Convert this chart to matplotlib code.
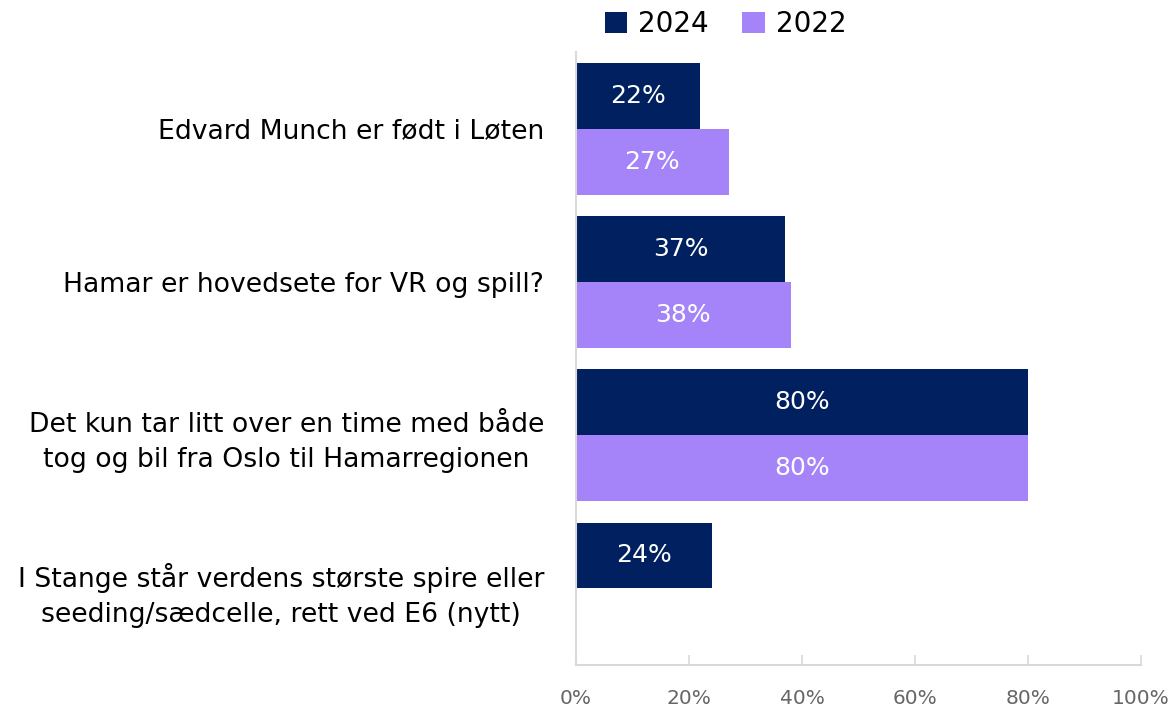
import matplotlib.pyplot as plt
import numpy as np

# data
categories = [
    'Edvard Munch er født i Løten',
    'Hamar er hovedsete for VR og spill?',
    'Det kun tar litt over en time med både\ntog og bil fra Oslo til Hamarregionen',
    'I Stange står verdens største spire eller\nseeding/sædcelle, rett ved E6 (nytt)',
]
values_2024 = [22, 37, 80, 24]
values_2022 = [27, 38, 80, None]
series_names = ['2024', '2022']

col_2024 = '#002060'
col_2022 = '#A484F8'

fig = plt.figure(figsize=(11.71, 7.09), dpi=100)
ax = fig.add_axes([0.4919, 0.062, 0.4825, 0.8647])

y = np.arange(len(categories))
h = 0.43

for i, (v24, v22) in enumerate(zip(values_2024, values_2022)):
    if v24 is not None:
        ax.barh(y[i] - h / 2, v24, height=h, color=col_2024,
                label=series_names[0] if i == 0 else None)
        ax.text(v24 / 2, y[i] - h / 2, f'{v24}%', ha='center', va='center',
                color='white', fontsize=18)
    if v22 is not None:
        ax.barh(y[i] + h / 2, v22, height=h, color=col_2022,
                label=series_names[1] if i == 0 else None)
        ax.text(v22 / 2, y[i] + h / 2, f'{v22}%', ha='center', va='center',
                color='white', fontsize=18)

ax.set_ylim(len(categories) - 0.5, -0.5)
ax.set_xlim(0, 100)
ax.set_yticks(y)
ax.set_yticklabels(categories, fontsize=19.2, multialignment='center', linespacing=1.45)
ax.tick_params(axis='y', length=0, pad=23)

ax.set_xticks(np.arange(0, 101, 20))
ax.set_xticklabels([f'{t}%' for t in range(0, 101, 20)], fontsize=14.5, color='#666666')
ax.tick_params(axis='x', direction='in', length=7, color='#d9d9d9', width=1.2, pad=17)

for s in ['top', 'right']:
    ax.spines[s].set_visible(False)
for s in ['left', 'bottom']:
    ax.spines[s].set_color('#d9d9d9')
    ax.spines[s].set_linewidth(1.5)

leg = ax.legend(loc='lower center', bbox_to_anchor=(0.265, 1.0), ncol=2, frameon=False,
                fontsize=20, handlelength=0.8, handleheight=0.8, handletextpad=0.4,
                columnspacing=1.2, borderaxespad=0.1)

fig.savefig('out.png', dpi=100)
